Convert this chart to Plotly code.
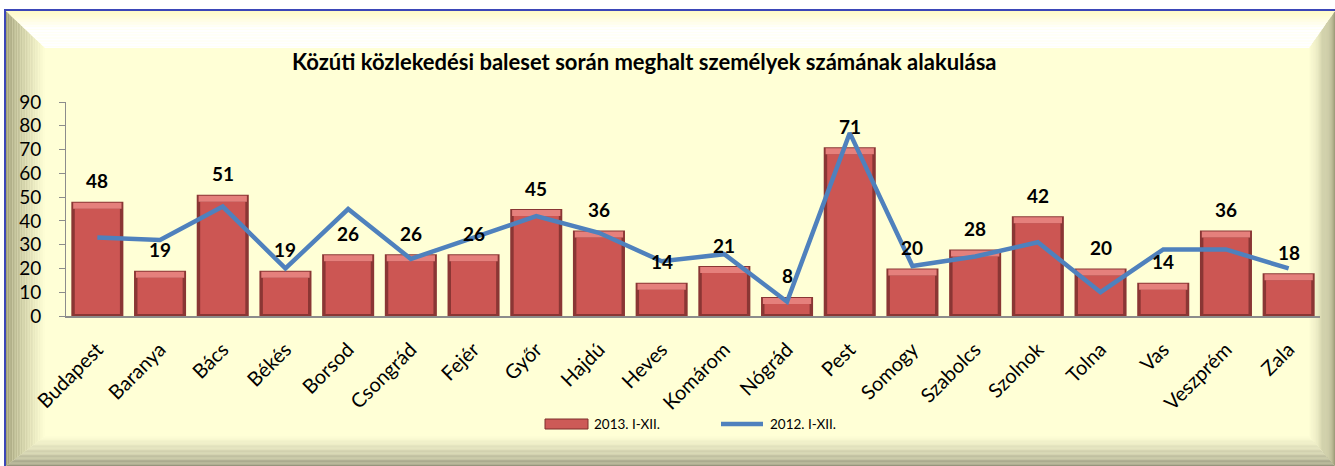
import plotly.graph_objects as go

# ---------------- data ----------------
categories = ["Budapest", "Baranya", "Bács", "Békés", "Borsod", "Csongrád", "Fejér",
              "Győr", "Hajdú", "Heves", "Komárom", "Nógrád", "Pest", "Somogy",
              "Szabolcs", "Szolnok", "Tolna", "Vas", "Veszprém", "Zala"]
values_2013 = [48, 19, 51, 19, 26, 26, 26, 45, 36, 14, 21, 8, 71, 20, 28, 42, 20, 14, 36, 18]
values_2012 = [33, 32, 46, 20, 45, 24, 33, 42, 35, 23, 26, 6, 77, 21, 25, 31, 10, 28, 28, 20]
y_ticks = [0, 10, 20, 30, 40, 50, 60, 70, 80, 90]
series_names = ["2013. I-XII.", "2012. I-XII."]
title_text = "Közúti közlekedési baleset során meghalt személyek számának alakulása"

# ---------------- geometry (pixels) ----------------
W, H = 1335, 466
L, R_EDGE, TOP, BOT = 66, 1320, 102, 316
PW, PH = R_EDGE - L, BOT - TOP
PX_PER_UNIT = PH / 90.0


def px(x):
    return (x - L) / PW


def py(y):
    return (BOT - y) / PH


def hexmix(c1, c2, t):
    a = [int(c1[i:i + 2], 16) for i in (1, 3, 5)]
    b = [int(c2[i:i + 2], 16) for i in (1, 3, 5)]
    c = [round(a[k] + (b[k] - a[k]) * t) for k in range(3)]
    return "#%02x%02x%02x" % tuple(c)


def poly(points, color):
    d = "M " + " L ".join(f"{px(x):.5f},{py(y):.5f}" for x, y in points) + " Z"
    return dict(type="path", xref="paper", yref="paper", path=d,
                fillcolor=color, line=dict(width=0), layer="below")


def lerp(a, b, t):
    return a + (b - a) * t


YEL = "#ffffd6"
shapes = []
# frame background
shapes.append(poly([(5, 10), (1336, 10), (1336, 467), (5, 467)], YEL))

# bevel geometry
OX0, OY0, OX1, OY1 = 6, 11, 1335, 466        # outer
IX0, IY0, IX1, IY1 = 45, 48, 1309, 436       # inner
N = 24
for i in range(N):
    t0, t1 = i / N, (i + 1) / N
    tm = (t0 + t1) / 2
    # left bevel (dark outside -> light inside)
    c = hexmix("#9c9b74", YEL, tm ** 0.8)
    shapes.append(poly([(lerp(OX0, IX0, t0), lerp(OY0, IY0, t0)),
                        (lerp(OX0, IX0, t1), lerp(OY0, IY0, t1)),
                        (lerp(OX0, IX0, t1), lerp(OY1, IY1, t1)),
                        (lerp(OX0, IX0, t0), lerp(OY1, IY1, t0))], c))
    # right bevel
    c = hexmix("#9a9978", YEL, tm ** 0.8)
    shapes.append(poly([(lerp(OX1, IX1, t0), lerp(OY0, IY0, t0)),
                        (lerp(OX1, IX1, t1), lerp(OY0, IY0, t1)),
                        (lerp(OX1, IX1, t1), lerp(OY1, IY1, t1)),
                        (lerp(OX1, IX1, t0), lerp(OY1, IY1, t0))], c))
    # bottom bevel
    c = hexmix("#8e8d76", YEL, tm ** 0.7)
    shapes.append(poly([(lerp(OX0, IX0, t0), lerp(OY1, IY1, t0)),
                        (lerp(OX1, IX1, t0), lerp(OY1, IY1, t0)),
                        (lerp(OX1, IX1, t1), lerp(OY1, IY1, t1)),
                        (lerp(OX0, IX0, t1), lerp(OY1, IY1, t1))], c))
    # top bevel (light yellow -> white)
    c = hexmix("#fffac4", "#ffffff", min(1.0, tm * 2.2))
    shapes.append(poly([(lerp(OX0, IX0, t0), lerp(OY0, IY0, t0)),
                        (lerp(OX1, IX1, t0), lerp(OY0, IY0, t0)),
                        (lerp(OX1, IX1, t1), lerp(OY0, IY0, t1)),
                        (lerp(OX0, IX0, t1), lerp(OY0, IY0, t1))], c))

# outer blue frame
shapes.append(dict(type="rect", xref="paper", yref="paper",
                   x0=px(5), x1=px(1336), y0=py(467), y1=py(10),
                   line=dict(color="#3b46b8", width=2), fillcolor="rgba(0,0,0,0)", layer="below"))

# custom legend swatches
shapes.append(dict(type="rect", xref="paper", yref="paper",
                   x0=px(545), x1=px(588), y0=py(429), y1=py(419),
                   fillcolor="#cd5a57", line=dict(color="#7d2f2d", width=1), layer="above"))
shapes.append(dict(type="line", xref="paper", yref="paper",
                   x0=px(721), x1=px(763), y0=py(424), y1=py(424),
                   line=dict(color="#4f81bd", width=4.5), layer="above"))

FONT = "Lato, 'Open Sans', sans-serif"

fig = go.Figure()

# bars with bevel look (dark shell, face, top highlight)
BW = 0.83
edge_u = 2.0 / PX_PER_UNIT
top_u = 7.0 / PX_PER_UNIT
fig.add_trace(go.Bar(x=categories, y=values_2013, width=BW, name=series_names[0],
                     marker=dict(color="#8a3634", line=dict(width=0)),
                     showlegend=False, hoverinfo="x+y"))
fig.add_trace(go.Bar(x=categories, y=[v - edge_u - top_u for v in values_2013],
                     base=[edge_u] * len(values_2013), width=BW - 0.11,
                     marker=dict(color="#cc5653", line=dict(width=0)),
                     showlegend=False, hoverinfo="skip"))
fig.add_trace(go.Bar(x=categories, y=[top_u - 1.0 / PX_PER_UNIT] * len(values_2013),
                     base=[v - top_u for v in values_2013], width=BW - 0.06,
                     marker=dict(color="#e5807c", line=dict(width=0)),
                     showlegend=False, hoverinfo="skip"))

fig.add_trace(go.Scatter(x=categories, y=values_2012, mode="lines", name=series_names[1],
                         line=dict(color="#4f81bd", width=4.5), showlegend=False))

annotations = []
for c, v in zip(categories, values_2013):
    annotations.append(dict(x=c, y=v, xref="x", yref="y", text=f"<b>{v}</b>",
                            showarrow=False, yshift=21,
                            font=dict(family=FONT, size=19, color="#000000")))

annotations.append(dict(x=px(592), y=py(424), xref="paper", yref="paper", xanchor="left",
                        yanchor="middle", text=series_names[0], showarrow=False,
                        font=dict(family=FONT, size=13.5, color="#000000")))
annotations.append(dict(x=px(768), y=py(424), xref="paper", yref="paper", xanchor="left",
                        yanchor="middle", text=series_names[1], showarrow=False,
                        font=dict(family=FONT, size=13.5, color="#000000")))
annotations.append(dict(x=px(644), y=py(62), xref="paper", yref="paper", xanchor="center",
                        yanchor="middle", text=f"<b>{title_text}</b>", showarrow=False,
                        font=dict(family=FONT, size=22, color="#000000")))

fig.update_layout(
    width=W, height=H,
    margin=dict(l=L, r=W - R_EDGE, t=TOP, b=H - BOT, pad=0),
    paper_bgcolor="#ffffff", plot_bgcolor="rgba(0,0,0,0)",
    barmode="overlay", bargap=0.17,
    shapes=shapes, annotations=annotations,
    showlegend=False,
    font=dict(family=FONT, color="#000000"),
    xaxis=dict(type="category", tickangle=-45, tickfont=dict(size=20, family=FONT),
               showgrid=False, showline=True, linecolor="#8c8c8c", linewidth=2,
               ticks="", ticklabelstandoff=12, zeroline=False),
    yaxis=dict(range=[0, 90], tickvals=y_ticks, tickfont=dict(size=19, family=FONT),
               showgrid=False, showline=True, linecolor="#8c8c8c", linewidth=1,
               ticks="outside", ticklen=6, tickcolor="#8c8c8c",
               ticklabelstandoff=14, zeroline=False),
)

fig.write_html("out.html", config={"displayModeBar": False},
               post_script="document.body.style.margin='0';document.body.style.padding='0';")
